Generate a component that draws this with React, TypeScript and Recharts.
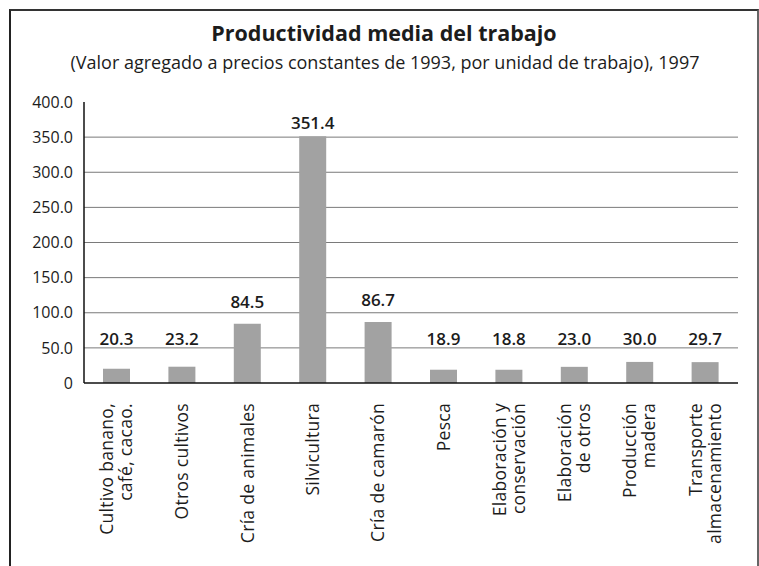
import React from 'react';
import { BarChart, Bar, XAxis, YAxis, CartesianGrid, LabelList } from 'recharts';

// categories (line breaks as in the printed chart)
const categories = [
  'Cultivo banano,|café, cacao.',
  'Otros cultivos',
  'Cría de animales',
  'Silvicultura',
  'Cría de camarón',
  'Pesca',
  'Elaboración y|conservación',
  'Elaboración|de otros',
  'Producción|madera',
  'Transporte|almacenamiento',
];

const productividad = [20.3, 23.2, 84.5, 351.4, 86.7, 18.9, 18.8, 23.0, 30.0, 29.7];

const yTicks = [0, 50, 100, 150, 200, 250, 300, 350, 400];
const gridValues = [50, 100, 150, 200, 250, 300, 350];

const data = categories.map((name, i) => ({ name, value: productividad[i] }));

const FONT = '"Open Sans", "Noto Sans", sans-serif';
const INK = '#1c1c1c';
const PLOT_TOP = 102;

const CategoryTick = (props: any) => {
  const { x, y, payload } = props;
  const lines: string[] = String(payload.value).split('|');
  const gap = 19;
  return (
    <g transform={`translate(${x},${y + 18})`}>
      <text
        transform="rotate(-90)"
        textAnchor="end"
        fontSize={17.5}
        letterSpacing={0.3}
        fontFamily={FONT}
        fill={INK}
      >
        {lines.map((line, i) => (
          <tspan key={i} x={0} y={(i - (lines.length - 1) / 2) * gap + 6}>
            {line}
          </tspan>
        ))}
      </text>
    </g>
  );
};

const ValueLabel = (props: any) => {
  const { x, y, width, height, value } = props;
  const bottom = y + height;
  const ly = Math.max(Math.min(y - 22, bottom - 44), PLOT_TOP + 21);
  return (
    <text
      x={x + width / 2}
      y={ly}
      dy={6}
      textAnchor="middle"
      fontSize={17}
      fontWeight={600}
      fontFamily={FONT}
      fill={INK}
    >
      {Number(value).toFixed(1)}
    </text>
  );
};

export default function App() {
  return (
    <div
      style={{
        position: 'absolute',
        left: 0,
        top: 0,
        width: 759,
        height: 566,
        overflow: 'hidden',
        background: '#fff',
        fontFamily: FONT,
      }}
    >
      <div
        style={{
          position: 'absolute',
          left: 9,
          top: 9,
          width: 746,
          height: 600,
          borderLeft: '2px solid #222',
          borderTop: '2px solid #333',
          borderRight: '2px solid #666',
        }}
      />
      <div
        style={{
          position: 'absolute',
          left: 0,
          width: 768,
          top: 18,
          textAlign: 'center',
          fontSize: 21.5,
          fontWeight: 700,
          color: INK,
        }}
      >
        Productividad media del trabajo
      </div>
      <div
        style={{
          position: 'absolute',
          left: 0,
          width: 770,
          top: 50,
          textAlign: 'center',
          fontSize: 18,
          color: INK,
        }}
      >
        (Valor agregado a precios constantes de 1993, por unidad de trabajo), 1997
      </div>
      <div style={{ position: 'absolute', left: 0, top: 0 }}>
        <BarChart
          width={759}
          height={566}
          data={data}
          margin={{ top: PLOT_TOP, right: 21, bottom: 33, left: 0 }}
          barCategoryGap={0}
        >
          <CartesianGrid
            vertical={false}
            horizontalValues={gridValues}
            stroke="#7a7a7a"
            strokeWidth={1}
          />
          <YAxis
            domain={[0, 400]}
            ticks={yTicks}
            width={84}
            tickLine={false}
            tickSize={0}
            tickMargin={11}
            axisLine={{ stroke: '#111', strokeWidth: 1.5 }}
            tickFormatter={(v: number) => (v === 0 ? '0' : v.toFixed(1))}
            tick={{ fontSize: 16, fill: INK, fontFamily: FONT }}
            interval={0}
          />
          <XAxis
            dataKey="name"
            height={150}
            interval={0}
            tickLine={false}
            tickSize={0}
            axisLine={{ stroke: '#111', strokeWidth: 1.5 }}
            tick={<CategoryTick />}
          />
          <Bar dataKey="value" fill="#a2a2a2" barSize={27} isAnimationActive={false}>
            <LabelList dataKey="value" content={<ValueLabel />} />
          </Bar>
        </BarChart>
      </div>
    </div>
  );
}
